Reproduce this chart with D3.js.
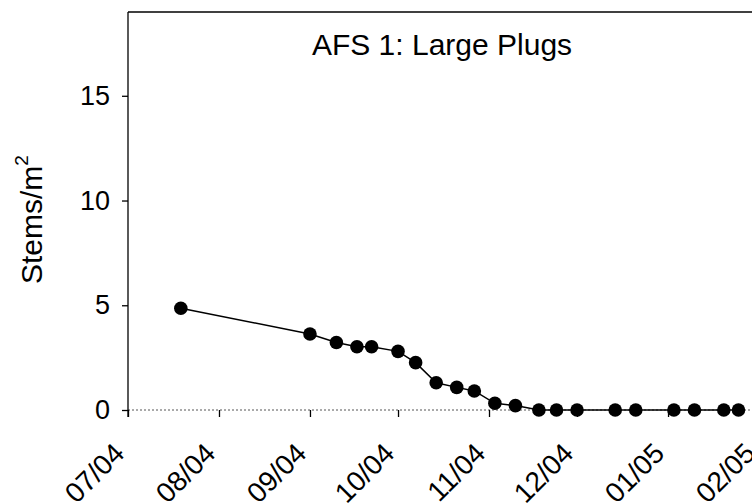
<!DOCTYPE html>
<html>
<head>
<meta charset="utf-8">
<script src="https://cdn.jsdelivr.net/npm/d3@7"></script>
<style>
  body { margin: 0; background: #fff; }
  svg { display: block; font-family: "Liberation Sans", Arial, sans-serif; }
</style>
</head>
<body>
<svg id="chart" width="752" height="504"></svg>
<script>
// sampling dates and stem density
var sampleDates = ["2004-07-19", "2004-09-01", "2004-09-10", "2004-09-17", "2004-09-22",
                   "2004-10-01", "2004-10-07", "2004-10-14", "2004-10-21", "2004-10-27",
                   "2004-11-03", "2004-11-10", "2004-11-18", "2004-11-24", "2004-12-01",
                   "2004-12-14", "2004-12-21", "2005-01-03", "2005-01-10", "2005-01-20",
                   "2005-01-25"];
var stems = [4.86, 3.63, 3.22, 3.02, 3.02,
             2.80, 2.26, 1.30, 1.08, 0.91,
             0.32, 0.21, 0, 0, 0,
             0, 0, 0, 0, 0,
             0];
var monthTicks = ["2004-07-01", "2004-08-01", "2004-09-01", "2004-10-01", "2004-11-01",
                  "2004-12-01", "2005-01-01", "2005-02-01"];
var yTicks = [0, 5, 10, 15];
var chartTitle = "AFS 1: Large Plugs";

function drawChart()
{
    var parseDay = d3.utcParse("%Y-%m-%d");
    var fmtMonth = d3.utcFormat("%m/%y");

    var svg = d3.select("#chart");
    var plotLeft = 128, plotTop = 12, plotBottom = 410;

    // plot area runs past the right edge of the window, as in the original
    var x = d3.scaleUtc()
        .domain([parseDay("2004-07-01"), parseDay("2005-03-01")])
        .range([plotLeft, plotLeft + 243 * 2.935]);
    var y = d3.scaleLinear()
        .domain([0, 19])
        .range([plotBottom, plotTop]);

    var points = sampleDates.map(function(d, i) {
        return { date: parseDay(d), value: stems[i] };
    });

    // frame top and dotted zero line
    svg.append("line")
        .attr("x1", plotLeft).attr("x2", 760)
        .attr("y1", plotTop).attr("y2", plotTop)
        .attr("stroke", "#000").attr("stroke-width", 1.3);

    svg.append("line")
        .attr("x1", plotLeft).attr("x2", 760)
        .attr("y1", y(0)).attr("y2", y(0))
        .attr("stroke", "#555").attr("stroke-width", 1)
        .attr("stroke-dasharray", "2,2");

    // x axis ticks
    var xAxis = svg.append("g")
        .attr("transform", "translate(0," + plotBottom + ")")
        .call(d3.axisBottom(x)
            .tickValues(monthTicks.map(parseDay))
            .tickSize(7)
            .tickFormat(""));
    xAxis.select(".domain").remove();
    xAxis.selectAll(".tick line").attr("stroke", "#000").attr("stroke-width", 1.3);

    svg.append("g").selectAll("text")
        .data(monthTicks.map(parseDay))
        .enter().append("text")
        .attr("transform", function(d) {
            return "translate(" + (x(d) - 2) + "," + (plotBottom + 45) + ") rotate(-45)";
        })
        .attr("text-anchor", "end")
        .style("font-size", "28px")
        .attr("fill", "#000")
        .text(function(d) { return fmtMonth(d); });

    // y axis
    var yAxis = svg.append("g")
        .attr("transform", "translate(" + plotLeft + ",0)")
        .call(d3.axisLeft(y)
            .tickValues(yTicks)
            .tickSize(6)
            .tickPadding(12));
    yAxis.select(".domain")
        .attr("d", "M0," + plotTop + "V" + (plotBottom + 7))
        .attr("stroke", "#000").attr("stroke-width", 1.3);
    yAxis.selectAll(".tick line").attr("stroke", "#000").attr("stroke-width", 1.3);
    yAxis.selectAll(".tick text")
        .style("font-size", "27px")
        .style("font-family", "Liberation Sans, Arial, sans-serif")
        .attr("fill", "#000");

    // y label
    var ylab = svg.append("text")
        .attr("transform", "translate(42,284) rotate(-90)")
        .style("font-size", "30px")
        .attr("fill", "#000");
    ylab.append("tspan").text("Stems/m");
    ylab.append("tspan").style("font-size", "19px").attr("dy", -14).text("2");

    // title
    svg.append("text")
        .attr("x", 442).attr("y", 55)
        .attr("text-anchor", "middle")
        .style("font-size", "30px")
        .attr("fill", "#000")
        .text(chartTitle);

    // series
    var line = d3.line()
        .x(function(d) { return x(d.date); })
        .y(function(d) { return y(d.value); });

    svg.append("path")
        .datum(points)
        .attr("d", line)
        .attr("fill", "none")
        .attr("stroke", "#000")
        .attr("stroke-width", 1.5);

    svg.append("g").selectAll("circle")
        .data(points)
        .enter().append("circle")
        .attr("cx", function(d) { return x(d.date); })
        .attr("cy", function(d) { return y(d.value); })
        .attr("r", 6.8)
        .attr("fill", "#000");
}

drawChart();
</script>
</body>
</html>
